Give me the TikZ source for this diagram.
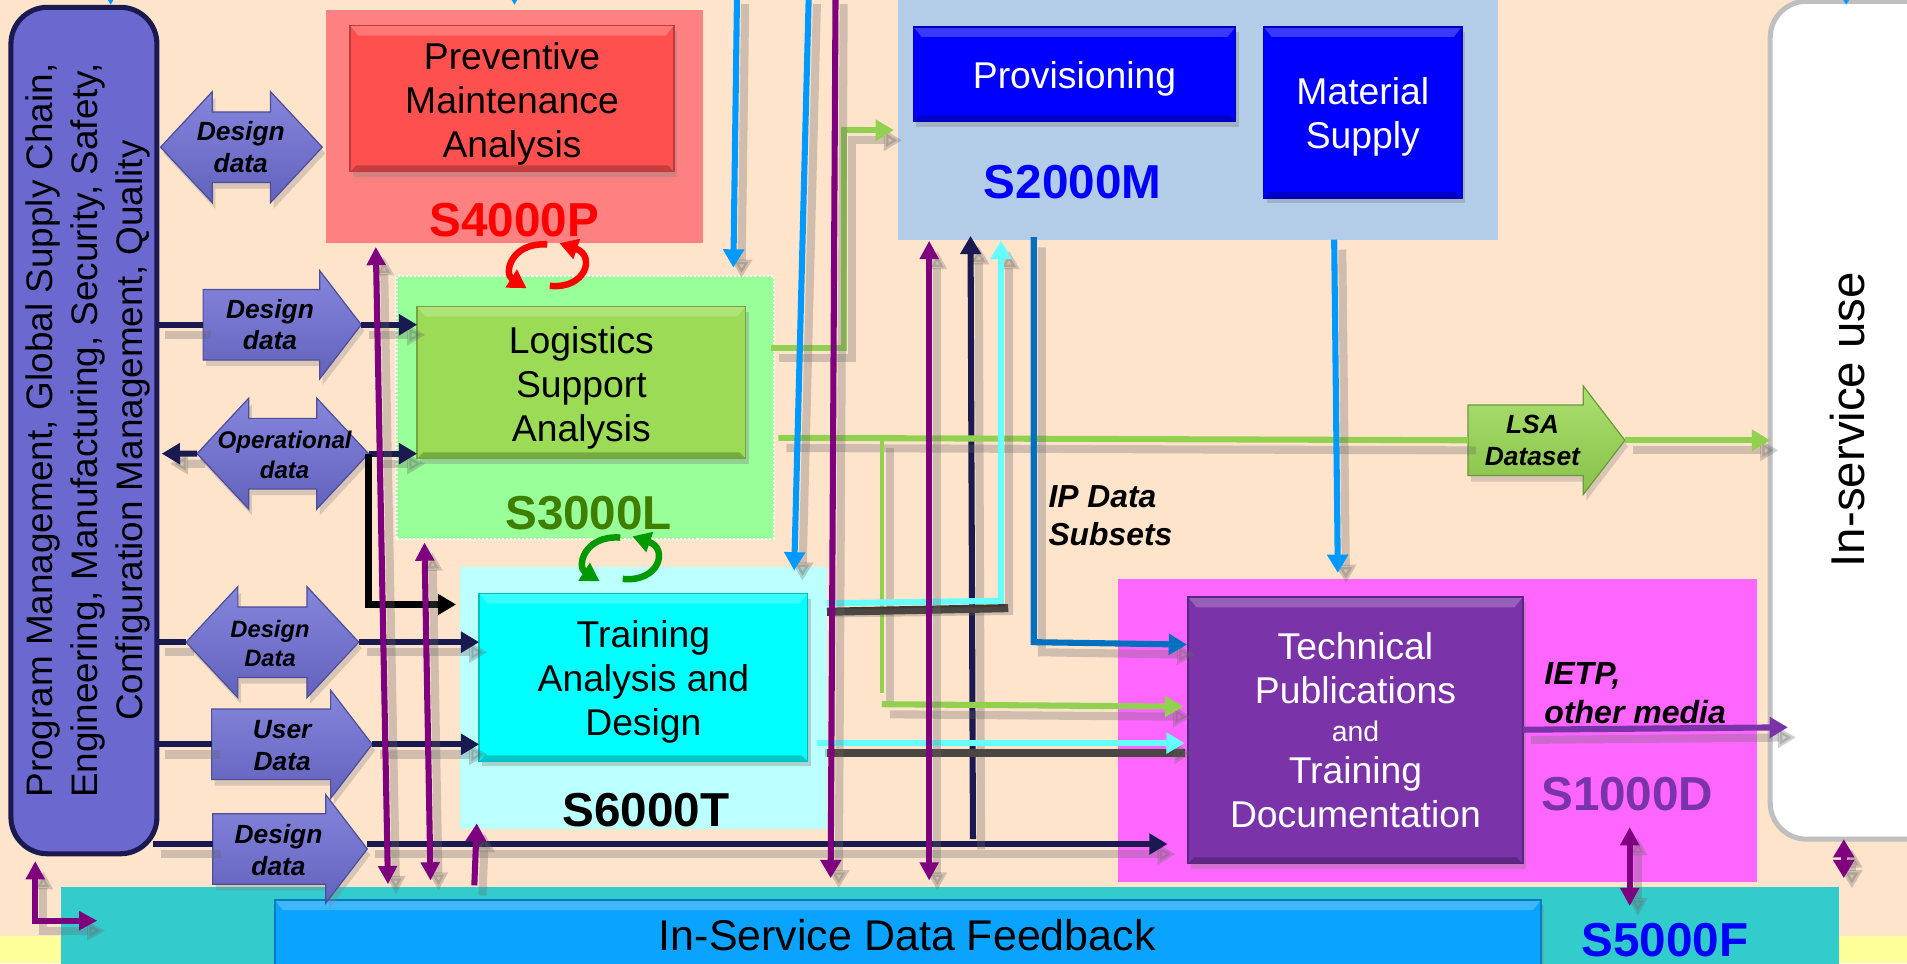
\documentclass[tikz,border=0pt]{standalone}
\usepackage{fontspec}
\setmainfont{Liberation Sans}
\usetikzlibrary{arrows.meta,shapes.arrows,shadows}
\definecolor{peach}{HTML}{FFE4CC}
\definecolor{paleyellow}{HTML}{FFFF99}
\definecolor{navyline}{HTML}{1A1A50}
\definecolor{purpleline}{HTML}{7F007F}
\definecolor{skyline}{HTML}{0099FF}
\definecolor{ipline}{HTML}{0070C0}
\definecolor{cyanline}{HTML}{66FFFF}
\definecolor{greenline}{HTML}{92D050}
\definecolor{pubpurple}{HTML}{7A33A8}
\definecolor{pmared}{HTML}{FF5050}
\definecolor{lsagreen}{HTML}{9BDB55}
\definecolor{tadcyan}{HTML}{00FFFF}
\definecolor{isdfblue}{HTML}{0AA3FF}
\definecolor{dataviolet}{HTML}{7070D8}
\definecolor{mgmtviolet}{HTML}{6B69CF}
\definecolor{panelred}{HTML}{FF8080}
\definecolor{panelgreen}{HTML}{99FF99}
\definecolor{panelcyan}{HTML}{BBFFFF}
\definecolor{panelblue}{HTML}{B3CDE8}
\definecolor{panelpink}{HTML}{FF66FF}
\definecolor{panelteal}{HTML}{33CCCC}
\definecolor{labelgreen}{HTML}{3F7F00}
\tikzset{
  boxsize/.style 2 args={minimum width=#1*0.6pt,minimum height=#2*0.6pt},
  panel/.style={rectangle,inner sep=0pt,outer sep=0pt},
  bevelbox/.style={panel,draw=#1!75!black,fill=#1,line width=0.8pt,
    drop shadow={shadow xshift=1.5pt,shadow yshift=-2.5pt,opacity=.35},
    path picture={
      \fill[white,opacity=.22] (path picture bounding box.north west) -- (path picture bounding box.north east)
        -- ([xshift=-4pt,yshift=-5pt]path picture bounding box.north east) -- ([xshift=4pt,yshift=-5pt]path picture bounding box.north west) -- cycle;
      \fill[black,opacity=.22] (path picture bounding box.south west) -- (path picture bounding box.south east)
        -- ([xshift=-3pt,yshift=3pt]path picture bounding box.south east) -- ([xshift=3pt,yshift=3pt]path picture bounding box.south west) -- cycle;
    }},
  boxtext/.style={align=center,inner sep=0pt,font=\fontsize{18.4}{21.7}\selectfont},
  stdlabel/.style={font=\fontsize{23.5}{26}\selectfont\bfseries,inner sep=0pt},
  dataarrow/.style={single arrow,inner sep=0pt,outer sep=0pt,draw=#1!70!black,line width=0.6pt,
    top color=#1!85!white,middle color=#1,bottom color=#1!88!black,
    text height=34.2pt,text depth=0pt,
    single arrow head extend=9.3pt,single arrow tip angle=105,anchor=tail,
    drop shadow={shadow xshift=1.5pt,shadow yshift=-3pt,opacity=.3}},
  bothwayarrow/.style={double arrow,inner sep=0pt,outer sep=0pt,draw=#1!70!black,line width=0.6pt,
    top color=#1!85!white,middle color=#1,bottom color=#1!88!black,
    text height=34.2pt,text depth=0pt,
    double arrow head extend=10pt,double arrow tip angle=94,
    drop shadow={shadow xshift=1.5pt,shadow yshift=-3pt,opacity=.3}},
  datatext/.style={align=center,inner sep=0pt,font=\fontsize{13}{15.6}\selectfont\bfseries\itshape},
  conn/.style={line width=3pt,draw=#1,
    preaction={draw=black!60,line width=4pt,opacity=.3,transform canvas={xshift=4pt,yshift=-5pt}}},
  tip/.style={-{Triangle[length=9pt,width=10pt]}},
  bothtips/.style={{Triangle[length=9pt,width=9pt]}-{Triangle[length=9pt,width=9pt]}},
}
\begin{document}
\begin{tikzpicture}[x=0.6pt,y=-0.6pt]
\useasboundingbox (0,0) rectangle (1568,792);
\fill[peach] (0,0) rectangle (1568,792);
\fill[paleyellow] (0,770) rectangle (1568,792);

\node[panel,boxsize={310}{192},fill=panelred] (s4000) at (423,104) {};
\node[panel,boxsize={310}{216},fill=panelgreen,draw=white,densely dotted,line width=1pt] (s3000) at (481,335) {};
\node[panel,boxsize={302}{216},fill=panelcyan] (s6000) at (529,574) {};
\node[panel,boxsize={494}{197},fill=panelblue] (s2000) at (985,98.5) {};
\node[panel,boxsize={526}{249},fill=panelpink] (s1000) at (1182,600.5) {};
\node[panel,boxsize={1462}{70},fill=panelteal] (s5000) at (781,764) {};
\node[panel,boxsize={165}{689},rounded corners=18pt,fill=white,draw=black!25,line width=2.5pt] (inservice) at (1538,345.5) {};
\node[inner sep=0pt,rotate=90,font=\fontsize{23.4}{26}\selectfont] (inservicetext) at (1519,345) {In-service use};

\node[panel,boxsize={696}{120},rotate=90,rounded corners=18pt,fill=mgmtviolet,draw=navyline,line width=2.5pt] (mgmt) at (69,354) {};
\node[boxtext,rotate=90,font=\fontsize{18.2}{22.2}\selectfont] (mgmttext) at (72,354)
  {Program Management, Global Supply Chain,\\Engineering, Manufacturing, Security, Safety,\\Configuration Management, Quality};

\node[bevelbox=pmared,boxsize={266}{120}] (pma) at (421,81) {};
\node[boxtext] (pmatext) at (421,85.3) {Preventive\\Maintenance\\Analysis};
\node[bevelbox=lsagreen,boxsize={270}{125}] (lsa) at (478,314.5) {};
\node[boxtext] (lsatext) at (478,319.3) {Logistics\\Support\\Analysis};
\node[bevelbox=tadcyan,boxsize={270}{138}] (tad) at (529,557) {};
\node[boxtext] (tadtext) at (529,560.6) {Training\\Analysis and\\Design};
\node[bevelbox=blue,boxsize={265}{78}] (prov) at (883.5,61) {};
\node[boxtext,text=white] (provtext) at (883.5,65) {Provisioning};
\node[bevelbox=blue,boxsize={163}{141}] (matl) at (1120.5,92.5) {};
\node[boxtext,text=white] (matltext) at (1120.5,96) {Material\\Supply};
\node[bevelbox=pubpurple,boxsize={275}{219}] (pubs) at (1114.5,600.5) {};
\node[boxtext,text=white,font=\fontsize{18.4}{21.9}\selectfont] (pubstext) at (1114.5,600.5) {Technical\\Publications\\[-3.5pt]{\fontsize{14}{21.9}\selectfont and}\\[-1pt]Training\\Documentation};
\node[bevelbox=isdfblue,boxsize={1041}{70}] (isdf) at (746.5,775) {};
\node[inner sep=0pt,font=\fontsize{21.2}{24}\selectfont] (isdftext) at (746,769) {In-Service Data Feedback};

\node[stdlabel,text=red] (s4000text) at (423,181) {S4000P};
\node[stdlabel,text=labelgreen] (s3000text) at (484,422) {S3000L};
\node[stdlabel] (s6000text) at (531,666) {S6000T};
\node[stdlabel,text=blue] (s2000text) at (882,150) {S2000M};
\node[stdlabel,text=pubpurple] (s1000text) at (1338,653) {S1000D};
\node[stdlabel,text=blue] (s5000text) at (1369,773) {S5000F};

\node[bothwayarrow=dataviolet,boxsize={90}{133}] (dd1) at (198.5,121) {};
\node[dataarrow=dataviolet,boxsize={88}{130}] (dd2) at (167,267) {};
\node[bothwayarrow=dataviolet,boxsize={90}{141}] (op) at (232.5,373) {};
\node[bothwayarrow=dataviolet,boxsize={89}{142}] (dd3) at (224,528) {};
\node[dataarrow=dataviolet,boxsize={84}{132}] (ud) at (174,612) {};
\node[dataarrow=dataviolet,boxsize={88}{127}] (dd4) at (175,698) {};
\node[dataarrow=lsagreen,boxsize={88}{129}] (lsads) at (1207,362) {};

\node[datatext] (dd1text) at (198,121) {Design\\data};
\node[datatext] (dd2text) at (222,267) {Design\\data};
\node[datatext,font=\fontsize{11.9}{15}\selectfont\bfseries\itshape] (optext) at (234,374) {Operational\\data};
\node[datatext,font=\fontsize{11.7}{14}\selectfont\bfseries\itshape] (dd3text) at (222,529) {Design\\Data};
\node[datatext] (udtext) at (232,613) {User\\Data};
\node[datatext] (dd4text) at (229,699) {Design\\data};
\node[datatext] (lsadstext) at (1260,362) {LSA\\Dataset};
\node[datatext,font=\fontsize{15.7}{18.6}\selectfont\bfseries\itshape,align=left] (iptext) at (913,424) {IP Data\\Subsets};
\node[datatext,font=\fontsize{15.8}{19.2}\selectfont\bfseries\itshape,align=left] (ietptext) at (1344.5,570) {IETP,\\other media};

\coordinate (b1top) at (309,203);
\coordinate (b1bot) at (319,727);
\coordinate (b2top) at (349,446);
\coordinate (b2bot) at (354,724);
\coordinate (upfrom) at (390,728);
\coordinate (upto) at (392,677);
\coordinate (p3top) at (687,-5);
\coordinate (p3bot) at (683,722);
\coordinate (p4top) at (764,198);
\coordinate (p4bot) at (764,724);
\coordinate (p5top) at (1340,680);
\coordinate (p5bot) at (1340,745);
\coordinate (p6top) at (1516,690);
\coordinate (p6mid) at (1516,707);
\coordinate (p6bot) at (1516,722);
\coordinate (lup) at (29,708);
\coordinate (lcorner) at (29,757);
\coordinate (lend) at (80,757);
\coordinate (sky1top) at (606,-5);
\coordinate (sky1bot) at (603,220);
\coordinate (sky2top) at (665,-5);
\coordinate (sky2bot) at (653,469);
\coordinate (sky3top) at (1097,197);
\coordinate (sky3bot) at (1100,471);
\coordinate (ip1) at (850,195);
\coordinate (ip2) at (850,528);
\coordinate (ip3) at (976,530);
\coordinate (cy1) at (680,496);
\coordinate (cy2) at (823,494);
\coordinate (cy3) at (823,198);
\coordinate (cy4) at (672,611);
\coordinate (cy5) at (974,611);
\coordinate (dk1) at (680,503);
\coordinate (dk2) at (829,500);
\coordinate (dk3) at (680,619);
\coordinate (dk4) at (974,619);
\coordinate (nv1) at (800,690);
\coordinate (nv2) at (798,194);
\coordinate (gr1) at (634,286);
\coordinate (gr2) at (694,286);
\coordinate (gr3) at (694,107);
\coordinate (gr4) at (735,107);
\coordinate (gr5) at (640,360);
\coordinate (gr6) at (725,360);
\coordinate (gr7) at (725,570);
\coordinate (gr8) at (725,579);
\coordinate (gr9) at (973,581);
\coordinate (blk1) at (303,373);
\coordinate (blk2) at (303,497);
\coordinate (blk3) at (375,497);
\coordinate (nv3) at (133,373);
\coordinate (nv4) at (126,694);
\coordinate (nv5) at (960,694);
\coordinate (ie1) at (1252,600);
\coordinate (ie2) at (1470,598);

\draw[conn=navyline] (mgmt.south |- dd2.tail) -- (dd2.tail);
\draw[conn=navyline,tip] (dd2.tip) -- (dd2.tip -| lsa.west);
\draw[conn=navyline,tip] (op.west) -- (nv3);
\draw[conn=navyline,tip] (op.east) -- (op.east -| lsa.west);
\draw[line width=3pt,tip] (blk1) -- (blk2) -- (blk3);
\draw[conn=navyline] (mgmt.south |- dd3.west) -- (dd3.west);
\draw[conn=navyline,tip] (dd3.east) -- (dd3.east -| tad.west);
\draw[conn=navyline] (mgmt.south |- ud.tail) -- (ud.tail);
\draw[conn=navyline,tip] (ud.tip) -- (ud.tip -| tad.west);
\draw[conn=navyline] (nv4) -- (nv4 -| dd4.tail);
\draw[conn=navyline,tip] (nv5 -| dd4.tip) -- (nv5);
\draw[conn=navyline,tip] (nv1) -- (nv2);

\draw[conn=greenline] (gr5) -- (lsads.tail);
\draw[conn=greenline,tip] (lsads.tip) -- (lsads.tip -| inservice.west);
\draw[conn=greenline,tip] (gr1) -- (gr2) -- (gr3) -- (gr4);
\draw[conn=greenline,line width=2.2pt] (gr6) -- (gr7);
\draw[conn=greenline,tip] (gr8) -- (gr9);

\draw[line width=4pt,draw=black!75!peach] (dk1) -- (dk2);
\draw[line width=4pt,draw=black!75!peach] (dk3) -- (dk4);
\draw[conn=cyanline,tip] (cy1) -- (cy2) -- (cy3);
\draw[conn=cyanline,tip] (cy4) -- (cy5);
\draw[conn=ipline,tip] (ip1) -- (ip2) -- (ip3);

\draw[conn=skyline,tip] (sky1top) -- (sky1bot);
\draw[conn=skyline,tip] (sky2top) -- (sky2bot);
\draw[conn=skyline,tip] (sky3top) -- (sky3bot);

\draw[conn=purpleline,bothtips] (b1top) -- (b1bot);
\draw[conn=purpleline,bothtips] (b2top) -- (b2bot);
\draw[conn=purpleline,tip] (upfrom) -- (upto);
\draw[conn=purpleline,tip] (p3top) -- (p3bot);
\draw[conn=purpleline,bothtips] (p4top) -- (p4bot);
\draw[conn=purpleline,bothtips] (p5top) -- (p5bot);
\draw[conn=purpleline,tip] (p6mid) -- (p6top);
\draw[conn=purpleline,tip] (p6mid) -- (p6bot);
\draw[conn=purpleline,bothtips] (lup) -- (lcorner) -- (lend);
\draw[conn=pubpurple,tip] (ie1) -- (ie2);

\draw[red,line width=3.2pt,tip] (450,201) .. controls (420,199) and (414,225) .. (433,237);
\draw[red,line width=3.2pt,tip] (452,235) .. controls (482,238) and (490,210) .. (460,200);
\draw[green!60!black,line width=3.2pt,tip] (510,442) .. controls (480,440) and (474,466) .. (493,478);
\draw[green!60!black,line width=3.2pt,tip] (512,476) .. controls (542,479) and (550,451) .. (520,441);

\draw[skyline,line width=2pt,tip] (91,-12) -- (91,4);
\draw[skyline,line width=2pt,tip] (423,-12) -- (423,4);
\draw[skyline,line width=2pt,tip] (1518,-12) -- (1518,4);
\end{tikzpicture}
\end{document}
